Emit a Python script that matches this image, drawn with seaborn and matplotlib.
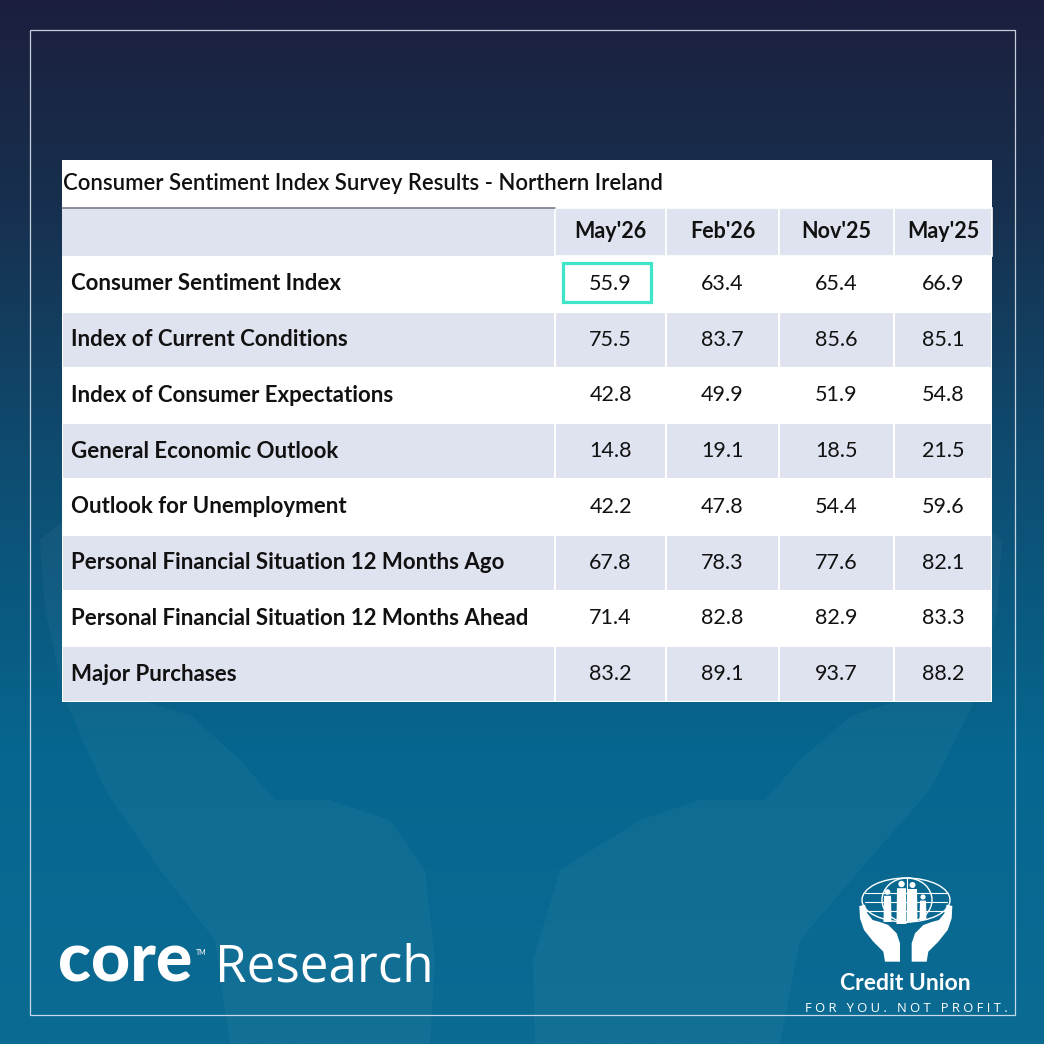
import numpy as np
import pandas as pd
import seaborn as sns
import matplotlib.pyplot as plt
from matplotlib import transforms
from matplotlib.colors import LinearSegmentedColormap, ListedColormap
from matplotlib.patches import Rectangle, Polygon, Ellipse, Circle

title = "Consumer Sentiment Index Survey Results - Northern Ireland"
periods = ["May'26", "Feb'26", "Nov'25", "May'25"]
measures = [
    "Consumer Sentiment Index",
    "Index of Current Conditions",
    "Index of Consumer Expectations",
    "General Economic Outlook",
    "Outlook for Unemployment",
    "Personal Financial Situation 12 Months Ago",
    "Personal Financial Situation 12 Months Ahead",
    "Major Purchases",
]
may26 = [55.9, 75.5, 42.8, 14.8, 42.2, 67.8, 71.4, 83.2]
feb26 = [63.4, 83.7, 49.9, 19.1, 47.8, 78.3, 82.8, 89.1]
nov25 = [65.4, 85.6, 51.9, 18.5, 54.4, 77.6, 82.9, 93.7]
may25 = [66.9, 85.1, 54.8, 21.5, 59.6, 82.1, 83.3, 88.2]
highlight = (0, 0)  # (row, col) of the boxed cell

df = pd.DataFrame(dict(zip(periods, [may26, feb26, nov25, may25])), index=measures)
# alternate row shading: 0 = white, 1 = lavender
band = pd.DataFrame((np.arange(len(measures)) % 2)[:, None] * np.ones((1, len(periods))),
                    index=measures, columns=periods)

LAV = "#dfe3f0"
stripe = ListedColormap(["white", LAV])

sns.set_theme(style="white")
plt.rcParams["font.family"] = ["Lato", "DejaVu Sans"]

W = H = 1044
fig = plt.figure(figsize=(W / 100, H / 100), dpi=100)


def box(x0, y0, x1, y1):
    return [x0 / W, 1 - y1 / H, (x1 - x0) / W, (y1 - y0) / H]


# background: gradient, watermark hands, thin frame
bg = fig.add_axes([0, 0, 1, 1], zorder=0)
grad = LinearSegmentedColormap.from_list(
    "bg", [(0, "#1b1f3d"), (0.2, "#17304f"), (0.45, "#0e4d72"), (0.72, "#06668f"), (1, "#0b6b93")])
bg.imshow(np.linspace(0, 1, 512)[:, None], cmap=grad, aspect="auto", extent=(0, W, H, 0))
bg.set_xlim(0, W)
bg.set_ylim(H, 0)
bg.axis("off")

left_wm = [(40, 540), (70, 515), (95, 560), (110, 640), (140, 700), (190, 715), (240, 760), (275, 800),
           (330, 800), (390, 820), (425, 870), (435, 960), (430, 1044), (230, 1044), (215, 940),
           (160, 870), (105, 790), (65, 700), (45, 610)]
right_wm = [(1002, 540), (972, 515), (947, 560), (932, 640), (902, 700), (852, 715), (800, 760),
            (765, 800), (700, 800), (640, 820), (560, 870), (533, 960), (535, 1044), (780, 1044),
            (800, 940), (860, 870), (930, 790), (975, 700), (997, 610)]
for pts in (left_wm, right_wm):
    bg.add_patch(Polygon(pts, closed=True, fc="white", alpha=0.035, ec="none"))

bg.add_patch(Rectangle((29.5, 29.5), 985.5, 985.5, fill=False, ec="#e6edf5", lw=0.9, alpha=0.85))

# title band and header row
bg.add_patch(Rectangle((62, 160), 930, 48, fc="white", ec="none"))
bg.text(63, 184, title, ha="left", va="center", fontsize=15.9, fontweight="semibold", color="#111111")
bg.add_patch(Rectangle((62, 208), 493, 48, fc=LAV, ec="none"))
bg.plot([62, 555], [208, 208], color="#6e7382", lw=1.1)

# table body: label column plus one striped heatmap per period column
col_edges = [555, 666, 779, 894, 992]
ax_lab = fig.add_axes(box(62, 256, 555, 702), zorder=2)
sns.heatmap(band.iloc[:, :1], ax=ax_lab, cmap=stripe, vmin=0, vmax=1, cbar=False,
            linewidths=1.2, linecolor="white", xticklabels=False, yticklabels=False)

lab_tr = transforms.blended_transform_factory(ax_lab.transAxes, ax_lab.transData)
for i, m in enumerate(measures):
    ax_lab.text(9 / 493, i + 0.5, m, transform=lab_tr, ha="left", va="center",
                fontsize=16, fontweight="bold", color="#111111")

r, c = highlight
for j, p in enumerate(periods):
    ax = fig.add_axes(box(col_edges[j], 256, col_edges[j + 1], 702), zorder=2)
    sns.heatmap(band[[p]], ax=ax, cmap=stripe, vmin=0, vmax=1, cbar=False,
                annot=df[[p]].values, fmt=".1f", annot_kws=dict(color="#111111", fontsize=15.5),
                linewidths=1.2, linecolor="white", xticklabels=False, yticklabels=False)
    hdr_tr = transforms.blended_transform_factory(ax.transData, bg.transData)
    bg.add_patch(Rectangle((0, 208), 1, 48, transform=hdr_tr, fc=LAV, ec="white", lw=1.2))
    bg.text(0.5, 232, p, transform=hdr_tr, ha="center", va="center",
            fontsize=15.5, fontweight="bold", color="#111111")
    if j == c:
        ax.add_patch(Rectangle((0.073, r + 0.126), 0.79, 0.7, fill=False, ec="#3fe5c9",
                               lw=2.3, clip_on=False, zorder=5))

# core Research wordmark
bg.text(58, 982, "core", ha="left", va="baseline", fontsize=49, fontweight="black", color="white")
bg.text(196, 955, "TM", ha="left", va="baseline", fontsize=5, color="white")
bg.text(215, 981, "Research", ha="left", va="baseline", fontsize=36.8, color="white",
        family=["Open Sans", "DejaVu Sans"])

# Credit Union logo
def zp(pts):
    return [(850 + x / 3, 870 + y / 3) for x, y in pts]


hand = [(28, 108), (45, 104), (52, 130), (68, 150), (90, 156), (115, 165), (140, 190), (150, 220),
        (150, 275), (105, 275), (100, 245), (70, 215), (42, 180), (30, 145)]
bg.add_patch(Polygon(zp(hand), closed=True, fc="white", ec="none"))
bg.add_patch(Polygon(zp([(335 - x, y) for x, y in hand]), closed=True, fc="white", ec="none"))

bg.add_patch(Ellipse((906, 900), 88, 44, fill=False, ec="white", lw=1.0))
bg.add_patch(Ellipse((907, 900), 50, 44, fill=False, ec="white", lw=1.0))
for yy in (893, 902, 911):
    bg.plot([865, 947], [yy, yy], color="white", lw=0.8)
bg.plot([907, 907], [878, 922], color="white", lw=0.8)
people = [(887.5, 892, 2.8, 7, 922), (901.5, 884, 3.2, 9, 924), (912.5, 885, 3.0, 9, 921), (923, 897, 2.6, 6, 920)]
for cx, hy, hr, bw, yb in people:
    bg.add_patch(Circle((cx, hy), hr, fc="white", ec="none"))
    bg.add_patch(Polygon([(cx - bw / 2, hy + hr + 1), (cx + bw / 2, hy + hr + 1),
                          (cx + bw / 2 + 0.5, yb), (cx - bw / 2 - 0.5, yb)], closed=True, fc="white", ec="none"))

bg.text(905, 983, "Credit Union", ha="center", va="center", fontsize=16.5, fontweight="bold", color="white")
bg.text(906, 1008, " ".join("FOR YOU. NOT PROFIT."), ha="center", va="center", fontsize=9.4,
        color="white", family=["Open Sans", "DejaVu Sans"])

fig.savefig("out.png", dpi=100)
